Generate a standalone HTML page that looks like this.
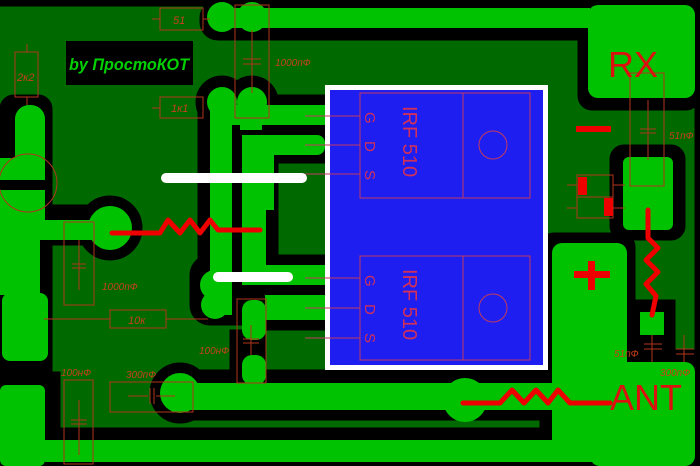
<!DOCTYPE html>
<html><head><meta charset="utf-8"><style>
html,body{margin:0;padding:0;background:#000;}
svg{display:block;}
</style></head><body>
<svg width="700" height="466" viewBox="0 0 700 466" xmlns="http://www.w3.org/2000/svg">
<rect width="700" height="466" fill="#006a00"/>
<!-- black isolation layer -->
<g fill="#000" stroke="#000">
<rect x="0" y="0" width="700" height="6"/>
<rect x="695" y="0" width="5" height="466"/>
<rect x="200" y="0" width="400" height="40" rx="18"/>
<rect x="578" y="0" width="122" height="110" rx="14"/>
<circle cx="222" cy="102" r="26"/><circle cx="252" cy="102" r="26"/>
<rect x="198" y="95" width="80" height="230" rx="18"/>
<rect x="230" y="95" width="95" height="68"/>
<rect x="0" y="95" width="52" height="300" rx="14"/>
<circle cx="110" cy="228" r="32"/>
<rect x="40" y="205" width="70" height="40"/>
<rect x="0" y="372" width="60" height="94"/>
<rect x="40" y="428" width="560" height="38"/>
<circle cx="180" cy="393" r="30"/><rect x="180" y="370" width="420" height="50"/>
<rect x="230" y="330" width="35" height="60"/>
<rect x="540" y="233" width="95" height="235" rx="14"/>
<rect x="580" y="350" width="120" height="116"/>
<rect x="610" y="145" width="75" height="95" rx="14"/>
<rect x="630" y="300" width="45" height="50"/>
<rect x="190" y="255" width="110" height="70" rx="20"/>
<rect x="260" y="255" width="65" height="75"/>
</g>
<!-- bright copper -->
<g fill="#00c200">
<rect x="218" y="8" width="372" height="20"/>
<circle cx="222" cy="17" r="15"/><circle cx="252" cy="17" r="15"/>
<rect x="588" y="5" width="107" height="93" rx="10"/>
<circle cx="222" cy="102" r="15"/><circle cx="252" cy="102" r="15"/>
<rect x="210" y="100" width="22" height="215"/>
<rect x="240" y="100" width="22" height="30"/>
<rect x="232" y="105" width="93" height="20"/>
<rect x="242" y="135" width="83" height="20" rx="8"/>
<rect x="242" y="135" width="24" height="150"/>
<rect x="262" y="155" width="12" height="55"/>
<circle cx="215" cy="285" r="15"/><circle cx="215" cy="305" r="14"/>
<rect x="265" y="265" width="60" height="20"/><rect x="265" y="295" width="60" height="25"/>
<rect x="242" y="300" width="24" height="40" rx="10"/>
<rect x="242" y="355" width="24" height="30" rx="10"/>
<rect x="15" y="105" width="30" height="70" rx="14"/>
<rect x="0" y="158" width="45" height="22"/><rect x="0" y="190" width="45" height="30"/>
<rect x="0" y="215" width="40" height="80"/>
<rect x="40" y="220" width="70" height="20"/>
<circle cx="110" cy="228" r="22"/>
<rect x="2" y="293" width="46" height="68" rx="8"/>
<rect x="0" y="385" width="45" height="81" rx="6"/>
<rect x="45" y="440" width="550" height="22"/>
<circle cx="180" cy="393" r="20"/>
<rect x="180" y="383" width="410" height="27"/>
<circle cx="465" cy="400" r="22"/>
<rect x="552" y="243" width="75" height="210" rx="10"/>
<rect x="590" y="362" width="105" height="104" rx="10"/>
<rect x="623" y="157" width="50" height="73" rx="6"/>
<rect x="640" y="312" width="24" height="23"/>
</g>
<!-- blue board -->
<rect x="325" y="85" width="223" height="285" fill="#fff"/>
<rect x="330" y="90" width="213" height="275" fill="#1e1ef0"/>
<g stroke="#c23a60" stroke-width="1" fill="none">
<rect x="360" y="93" width="170" height="105"/><line x1="463" y1="93" x2="463" y2="198"/><circle cx="493" cy="145" r="14"/>
<rect x="360" y="256" width="170" height="104"/><line x1="463" y1="256" x2="463" y2="360"/><circle cx="493" cy="308" r="14"/>
<line x1="305" y1="116" x2="360" y2="116"/><line x1="305" y1="145" x2="360" y2="145"/><line x1="305" y1="174" x2="360" y2="174"/>
<line x1="305" y1="278" x2="360" y2="278"/><line x1="305" y1="308" x2="360" y2="308"/><line x1="305" y1="338" x2="360" y2="338"/>
</g>
<g fill="#d0305a" font-family="Liberation Sans, sans-serif" font-size="15">
<text transform="translate(365,112) rotate(90)">G</text>
<text transform="translate(365,141) rotate(90)">D</text>
<text transform="translate(365,170) rotate(90)">S</text>
<text transform="translate(365,275) rotate(90)">G</text>
<text transform="translate(365,304) rotate(90)">D</text>
<text transform="translate(365,333) rotate(90)">S</text>
<text font-size="20" transform="translate(403,106) rotate(90)">IRF 510</text>
<text font-size="20" transform="translate(403,269) rotate(90)">IRF 510</text>
</g>
<!-- white bars -->
<g stroke="#fff" stroke-linecap="round" fill="none">
<line x1="166" y1="178" x2="302" y2="178" stroke-width="10"/>
<line x1="218" y1="277" x2="288" y2="277" stroke-width="10"/>
</g>
<!-- caption -->
<rect x="66" y="41" width="127" height="44" fill="#000"/>
<text x="69" y="70" fill="#00d000" font-family="Liberation Sans, sans-serif" font-size="17" font-weight="bold" font-style="italic" textLength="120" lengthAdjust="spacingAndGlyphs">by ПростоКОТ</text>
<!-- component outlines -->
<g stroke="#b0361c" stroke-width="1" fill="none">
<rect x="160" y="8" width="43" height="22"/><line x1="152" y1="19" x2="160" y2="19"/><line x1="203" y1="19" x2="210" y2="19"/>
<rect x="160" y="97" width="43" height="21"/><line x1="152" y1="108" x2="160" y2="108"/>
<rect x="235" y="5" width="34" height="113"/><line x1="252" y1="30" x2="252" y2="93"/><line x1="243" y1="59" x2="261" y2="59"/><line x1="243" y1="64" x2="261" y2="64"/>
<rect x="15" y="52" width="23" height="45"/><line x1="27" y1="44" x2="27" y2="52"/><line x1="27" y1="97" x2="27" y2="105"/>
<circle cx="28" cy="183" r="29"/>
<rect x="64" y="222" width="30" height="83"/><line x1="79" y1="240" x2="79" y2="290"/><line x1="72" y1="264" x2="86" y2="264"/><line x1="72" y1="268" x2="86" y2="268"/>
<rect x="110" y="310" width="56" height="18"/><line x1="44" y1="319" x2="110" y2="319"/><line x1="166" y1="319" x2="208" y2="319"/>
<rect x="237" y="299" width="29" height="84"/><line x1="251" y1="325" x2="251" y2="355"/><line x1="243" y1="339" x2="259" y2="339"/><line x1="243" y1="343" x2="259" y2="343"/>
<rect x="64" y="380" width="29" height="84"/><line x1="79" y1="400" x2="79" y2="455"/><line x1="71" y1="420" x2="87" y2="420"/><line x1="71" y1="424" x2="87" y2="424"/>
<rect x="110" y="382" width="83" height="30"/><line x1="128" y1="396" x2="148" y2="396"/><line x1="150" y1="388" x2="150" y2="404"/><line x1="154" y1="388" x2="154" y2="404"/><line x1="156" y1="396" x2="175" y2="396"/>
<rect x="630" y="73" width="34" height="113"/><line x1="648" y1="100" x2="648" y2="160"/><line x1="640" y1="129" x2="656" y2="129"/><line x1="640" y1="133" x2="656" y2="133"/>
<rect x="577" y="175" width="36" height="43"/><line x1="577" y1="197" x2="613" y2="197"/><line x1="567" y1="185" x2="577" y2="185"/><line x1="613" y1="185" x2="625" y2="185"/><line x1="567" y1="208" x2="577" y2="208"/><line x1="613" y1="208" x2="625" y2="208"/>
<line x1="652" y1="335" x2="652" y2="362"/><line x1="644" y1="344" x2="662" y2="344"/><line x1="644" y1="349" x2="662" y2="349"/>
<line x1="684" y1="335" x2="684" y2="362"/><line x1="676" y1="349" x2="694" y2="349"/><line x1="676" y1="354" x2="694" y2="354"/>
</g>
<g fill="#ee0000">
<rect x="578" y="177" width="9" height="18"/><rect x="604" y="198" width="9" height="18"/>
<rect x="576" y="126" width="35" height="6"/>
<rect x="574" y="271" width="36" height="7"/><rect x="588" y="261" width="7" height="29"/>
</g>
<!-- zigzag resistors -->
<g stroke="#ee0000" stroke-width="5" fill="none" stroke-linecap="round" stroke-linejoin="round">
<path d="M112 233 L160 233 L168 220 L180 233 L190 220 L200 233 L210 220 L218 230 L260 230"/>
<path d="M463 403 L500 403 L512 390 L524 403 L536 390 L548 403 L558 390 L570 403 L610 403"/>
<path d="M648 210 L648 238 L658 248 L646 260 L658 272 L646 284 L656 296 L652 315"/>
</g>
<!-- labels -->
<g fill="#c8401c" font-family="Liberation Sans, sans-serif" font-size="10" font-style="italic">
<text x="173" y="24" font-size="11">51</text>
<text x="275" y="66">1000пФ</text>
<text x="171" y="112" font-size="11">1к1</text>
<text x="17" y="81" font-size="11">2к2</text>
<text x="102" y="290">1000пФ</text>
<text x="128" y="324" font-size="11">10к</text>
<text x="199" y="354">100нФ</text>
<text x="61" y="376">100нФ</text>
<text x="126" y="378">300пФ</text>
<text x="669" y="139">51пФ</text>
<text x="614" y="357">51пФ</text>
<text x="660" y="376">300пФ</text>
</g>
<g fill="#dd1010" font-family="Liberation Sans, sans-serif" font-size="36">
<text x="608" y="77">RX</text>
<text x="610" y="410">ANT</text>
</g>
</svg>
</body></html>
